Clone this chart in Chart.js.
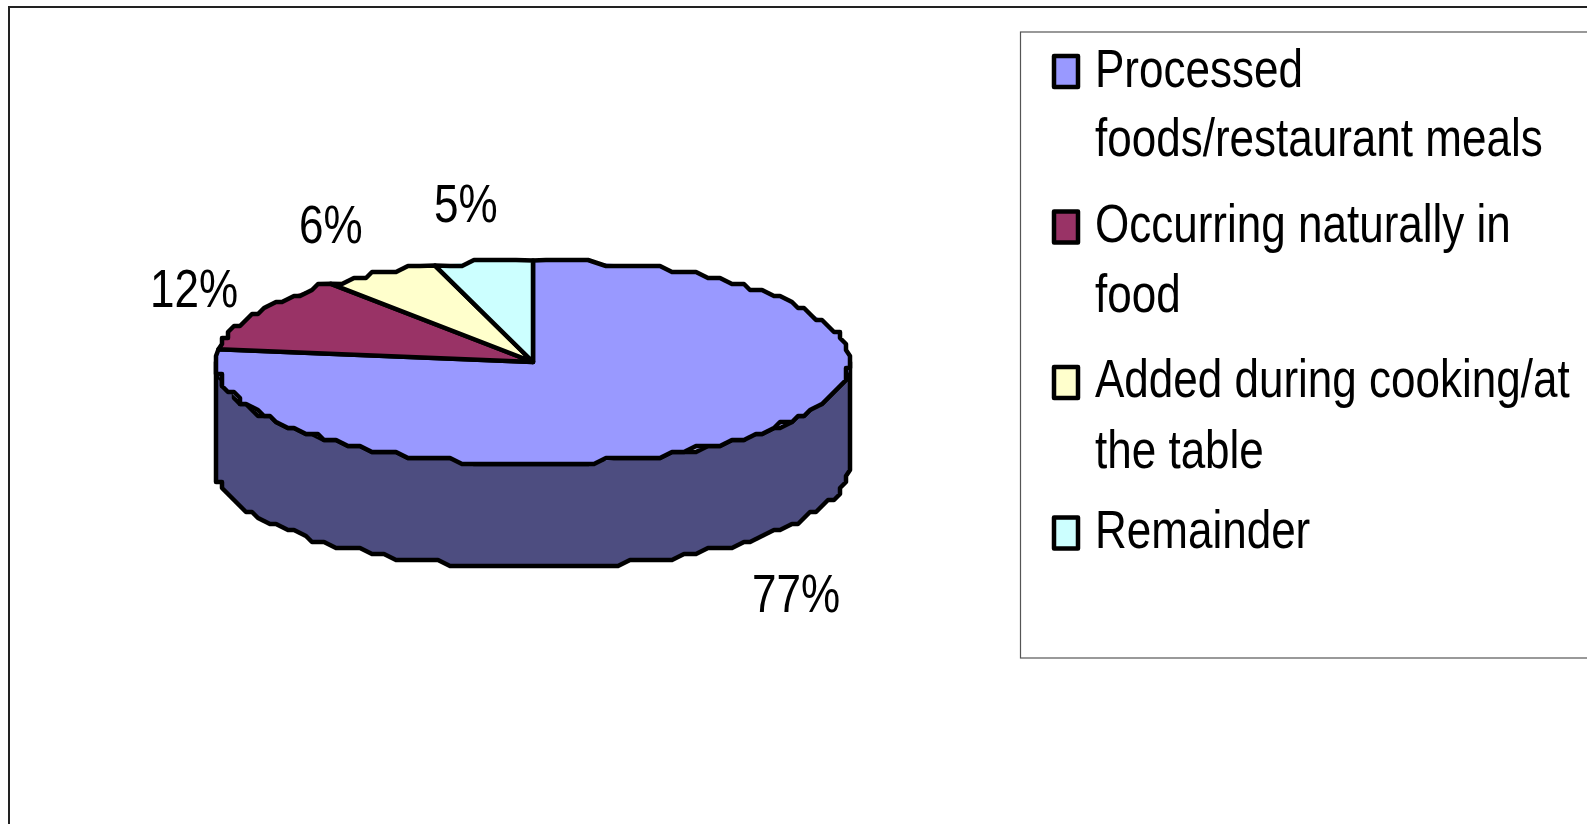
<!DOCTYPE html>
<html><head><meta charset="utf-8">
<style>html,body{margin:0;padding:0;background:#fff;overflow:hidden}canvas{display:block}</style>
<script src="https://cdn.jsdelivr.net/npm/chart.js@4/dist/chart.umd.min.js"></script>
</head><body><canvas id="c" width="1587" height="824"></canvas>
<script>
const categories = ["Processed foods/restaurant meals","Occurring naturally in food","Added during cooking/at the table","Remainder"];
const legendLines = [["Processed","foods/restaurant meals"],["Occurring naturally in","food"],["Added during cooking/at","the table"],["Remainder"]];
const values = [77,12,6,5];
const topColors = ["#9999FF","#993366","#FFFFCC","#CCFFFF"];
const sideColor = "#4D4D80";

const SQUASH = 0.32, DEPTH = 104, LW = 4.5, GRID = 6, STEP = Math.PI/70;
const FONT = '54px "Liberation Sans"', SX = 0.815;
const labelPos = [[752,612],[150,307],[299,243],[434,222]];
const swatchY = [54,209.5,365,515.5];
const lineY = [[87,156],[242,312],[397,468],[548]];

function text(ctx,s,x,y){ctx.save();ctx.translate(x,y);ctx.scale(SX,1);ctx.font=FONT;ctx.fillStyle="#000";ctx.textBaseline="alphabetic";ctx.textAlign="left";ctx.fillText(s,0,0);ctx.restore();}
const snap=(v,o)=>Math.round((v-o)/GRID)*GRID+o;
// stepped outline of an elliptical arc, as the low-resolution source rendering shows it
function rim(ctx,x,y,rx,ry,a0,a1){
  const n=Math.max(1,Math.ceil(Math.abs(a1-a0)/STEP));
  for(let i=0;i<=n;i++){
    const t=a0+(a1-a0)*i/n,px=x+rx*Math.cos(t),py=y+ry*Math.sin(t);
    if(i===0||i===n)ctx.lineTo(px,py);
    else ctx.lineTo(Math.max(x-rx,Math.min(x+rx,snap(px,0))),snap(py,2));
  }
}

const pie3d = {
  id:"pie3d",
  beforeDraw(chart){
    const ctx=chart.ctx;ctx.save();
    ctx.fillStyle="#fff";ctx.fillRect(0,0,chart.width,chart.height);
    ctx.strokeStyle="#222";ctx.lineWidth=2;ctx.beginPath();ctx.moveTo(9,830);ctx.lineTo(9,7);ctx.lineTo(1600,7);ctx.stroke();
    ctx.strokeStyle="#555";ctx.lineWidth=1.2;ctx.strokeRect(1020.5,32,700,626);
    ctx.restore();
  },
  beforeDatasetsDraw(chart){
    const ctx=chart.ctx,a0=chart.getDatasetMeta(0).data[0],x=a0.x,y=a0.y,rx=a0.outerRadius,ry=rx*SQUASH;
    ctx.save();ctx.lineWidth=LW;ctx.strokeStyle="#000";ctx.lineJoin="round";
    ctx.fillStyle=sideColor;ctx.beginPath();
    ctx.moveTo(x+rx,y);
    rim(ctx,x,y,rx,ry,0,Math.PI);
    ctx.lineTo(x-rx,y+DEPTH);
    rim(ctx,x,y+DEPTH,rx,ry,Math.PI,0);
    ctx.closePath();ctx.fill();ctx.stroke();ctx.restore();
    ctx.save();ctx.translate(0,y);ctx.scale(1,SQUASH);ctx.translate(0,-y);
  },
  afterDatasetsDraw(chart){
    const ctx=chart.ctx;ctx.restore();
    ctx.save();ctx.lineWidth=LW;ctx.strokeStyle="#000";ctx.lineJoin="round";
    chart.getDatasetMeta(0).data.forEach((a,i)=>{
      const rx=a.outerRadius;
      ctx.fillStyle=topColors[i];
      ctx.beginPath();ctx.moveTo(a.x,a.y);
      rim(ctx,a.x,a.y,rx,rx*SQUASH,a.startAngle,a.endAngle);
      ctx.closePath();ctx.fill();ctx.stroke();
    });
    ctx.restore();
  },
  afterDraw(chart){
    const ctx=chart.ctx;
    values.forEach((v,i)=>text(ctx,v+"%",labelPos[i][0],labelPos[i][1]));
    legendLines.forEach((lines,i)=>{
      ctx.save();ctx.fillStyle=topColors[i];ctx.strokeStyle="#000";ctx.lineWidth=4.5;ctx.lineJoin="round";
      ctx.fillRect(1054,swatchY[i]+2,24,31);ctx.strokeRect(1054,swatchY[i]+2,24,31);ctx.restore();
      lines.forEach((l,j)=>text(ctx,l,1095,lineY[i][j]));
    });
  }
};

new Chart(document.getElementById("c"),{
  type:"pie",
  data:{labels:categories,datasets:[{data:values,backgroundColor:topColors,borderWidth:0,clip:false}]},
  options:{responsive:false,animation:false,
    layout:{padding:{left:216,right:737,top:45,bottom:145}},
    plugins:{legend:{display:false},tooltip:{enabled:false}}},
  plugins:[pie3d]
});
</script></body></html>
